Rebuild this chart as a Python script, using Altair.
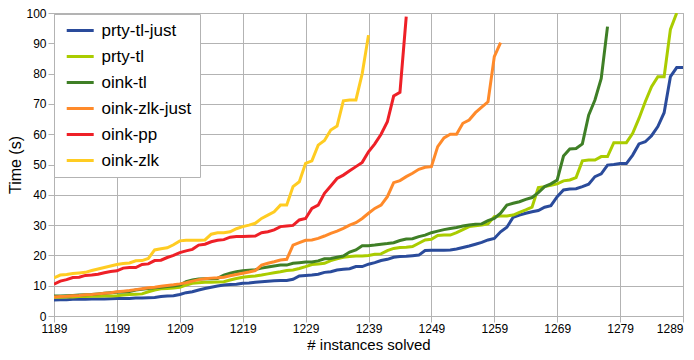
import altair as alt
import pandas as pd

START = 1189

series_names = ["prty-tl-just", "prty-tl", "oink-tl", "oink-zlk-just", "oink-pp", "oink-zlk"]
series_colors = ["#2a4b9b", "#aacc00", "#3f7f26", "#ff8a2a", "#ee2027", "#ffcc22"]

prty_tl_just = [5.3, 5.4, 5.4, 5.5, 5.5, 5.5, 5.6, 5.6, 5.6, 5.7, 5.8, 5.8, 5.8, 5.9, 5.9, 6.0,
                6.1, 6.4, 6.6, 6.7, 7.1, 7.7, 8.0, 8.6, 9.1, 9.5, 9.9, 10.2, 10.4, 10.5, 10.8,
                10.9, 11.1, 11.3, 11.5, 11.6, 11.7, 11.7, 12.1, 13.2, 13.4, 13.5, 13.8, 14.4,
                14.6, 15.2, 15.4, 15.6, 16.3, 16.3, 17.1, 17.6, 18.3, 18.7, 19.4, 19.6, 19.7,
                19.9, 20.1, 21.6, 21.7, 21.7, 21.7, 21.8, 22.1, 22.6, 23.1, 23.7, 24.3, 25.1,
                25.6, 27.8, 29.3, 32.6, 33.3, 33.9, 34.4, 34.8, 35.9, 36.4, 39.4, 41.6, 41.9,
                42.0, 42.7, 43.5, 46.0, 46.9, 49.8, 50.0, 50.3, 50.3, 53.1, 56.8, 57.5, 59.5,
                62.5, 67.1, 79.0, 82.0, 82.0]

prty_tl = [6.2, 6.2, 6.3, 6.3, 6.4, 6.4, 6.5, 6.5, 6.6, 6.6, 6.7, 6.9, 7.1, 7.2, 7.3, 8.0,
           8.6, 9.0, 9.1, 9.2, 9.5, 10.2, 10.8, 11.0, 11.1, 11.1, 11.2, 11.3, 11.9, 12.4, 12.8,
           13.0, 13.2, 13.5, 13.9, 14.3, 14.6, 15.0, 15.2, 15.7, 16.3, 17.0, 17.2, 17.4, 18.3,
           18.9, 19.4, 19.6, 19.8, 19.8, 20.0, 20.4, 20.5, 21.6, 22.3, 22.6, 22.7, 22.9, 24.0,
           25.1, 25.3, 26.6, 26.7, 26.7, 27.5, 28.5, 29.5, 29.8, 30.0, 30.4, 32.8, 33.0, 33.0,
           33.3, 34.2, 35.0, 35.9, 42.4, 42.7, 43.1, 43.6, 44.6, 44.9, 45.7, 51.2, 51.5, 51.5,
           52.6, 52.6, 57.2, 57.2, 57.2, 60.3, 65.2, 70.7, 75.7, 79.0, 79.0, 94.6, 100.0]

oink_tl = [6.6, 6.6, 6.7, 6.8, 6.9, 7.0, 7.1, 7.3, 7.5, 7.7, 7.8, 7.9, 8.1, 8.6, 8.8, 9.1,
           9.3, 9.5, 9.7, 9.9, 10.2, 11.3, 11.9, 12.2, 12.3, 12.3, 12.4, 13.5, 14.1, 14.6, 14.9,
           15.1, 15.3, 15.8, 16.2, 16.5, 16.8, 16.8, 17.4, 17.6, 17.8, 17.8, 18.2, 18.9, 19.0,
           19.4, 19.8, 21.1, 21.8, 23.2, 23.2, 23.4, 23.7, 23.9, 24.2, 24.9, 25.4, 25.5, 26.2,
           26.7, 27.5, 28.0, 28.5, 28.9, 29.2, 29.7, 30.0, 30.3, 30.4, 31.5, 32.2, 33.9, 36.6,
           37.2, 37.7, 38.5, 39.1, 40.7, 42.7, 43.6, 44.9, 52.8, 55.1, 55.3, 56.8, 66.3, 71.3,
           78.4, 95.5]

oink_zlk_just = [6.3, 6.4, 6.5, 6.7, 6.8, 7.0, 7.1, 7.3, 7.5, 7.7, 8.0, 8.2, 8.4, 8.7, 9.0,
                 9.3, 9.5, 9.8, 10.1, 10.3, 10.6, 11.0, 11.5, 12.0, 12.3, 12.5, 12.6, 12.8, 13.3,
                 13.7, 14.1, 14.5, 15.0, 16.8, 17.4, 17.9, 18.5, 18.7, 23.4, 24.2, 25.0, 25.1,
                 25.6, 26.4, 27.3, 28.0, 28.9, 30.0, 30.8, 32.2, 33.9, 35.5, 36.6, 39.4, 44.0,
                 44.7, 46.0, 47.1, 48.4, 49.1, 49.3, 55.9, 58.8, 60.0, 60.0, 63.6, 64.7, 67.1,
                 68.9, 70.7, 85.6, 90.2]

oink_pp = [10.5, 11.5, 12.0, 12.7, 12.8, 13.4, 13.5, 13.8, 14.3, 14.7, 14.9, 15.8, 16.0, 16.0,
           17.0, 17.2, 18.3, 18.4, 19.3, 20.0, 20.9, 21.5, 22.0, 23.4, 23.7, 24.5, 25.0, 25.2,
           26.0, 26.2, 26.2, 26.3, 26.4, 27.5, 27.8, 28.4, 29.5, 29.7, 29.9, 31.7, 32.2, 35.5,
           36.6, 40.5, 42.9, 45.4, 46.5, 47.9, 49.3, 50.7, 54.2, 56.8, 60.0, 64.1, 72.6, 73.8,
           98.8]

oink_zlk = [12.6, 13.5, 13.7, 14.0, 14.2, 14.4, 15.0, 15.5, 16.0, 16.5, 17.0, 17.3, 17.5, 18.2,
            18.3, 19.0, 21.8, 22.2, 22.5, 23.5, 24.8, 25.0, 25.0, 25.0, 25.1, 27.0, 27.5, 27.5,
            27.8, 28.8, 29.5, 30.0, 30.6, 32.2, 33.3, 34.4, 36.6, 36.6, 42.7, 44.3, 50.4, 51.2,
            56.4, 57.9, 61.4, 62.7, 71.0, 71.3, 71.3, 80.0, 92.7]

x_ticks = list(range(1189, 1290, 10))
y_ticks = list(range(0, 101, 10))

all_series = [prty_tl_just, prty_tl, oink_tl, oink_zlk_just, oink_pp, oink_zlk]
rows = []
for k, (name, vals) in enumerate(zip(series_names, all_series)):
    for i, v in enumerate(vals):
        rows.append({"series": name, "n": START + i, "time": v, "k": k})
df = pd.DataFrame(rows)

FONT = "Liberation Sans"

chart = alt.Chart(df).mark_line(strokeWidth=3, clip=True).encode(
    x=alt.X("n:Q",
            scale=alt.Scale(domain=[1189, 1289], nice=False, zero=False),
            axis=alt.Axis(values=x_ticks, title="# instances solved", format="d",
                          labelAlign={"condition": {"test": "datum.value > 1285", "value": "right"},
                                      "value": "center"},
                          labelFontSize=12, titleFontSize=15, titleFontWeight="normal",
                          labelColor="#000000", titleColor="#000000", labelFlush=False,
                          tickSize=6, labelPadding=1, titlePadding=3,
                          gridColor="#b3b3b3", domainColor="#b3b3b3", tickColor="#b3b3b3")),
    y=alt.Y("time:Q",
            scale=alt.Scale(domain=[0, 100], nice=False),
            axis=alt.Axis(values=y_ticks, title="Time (s)",
                          labelFontSize=12, titleFontSize=16, titleFontWeight="normal",
                          labelColor="#000000", titleColor="#000000", labelFlush=False,
                          tickSize=6, labelPadding=2, titlePadding=2,
                          gridColor="#b3b3b3", domainColor="#b3b3b3", tickColor="#b3b3b3")),
    color=alt.Color("series:N",
                    scale=alt.Scale(domain=series_names, range=series_colors),
                    legend=alt.Legend(title=None, orient="none", legendX=0, legendY=1,
                                      symbolType="M-0.56,0L3.44,0", symbolSize=182,
                                      symbolStrokeWidth=3,
                                      labelFontSize=17, labelColor="#000000", labelOffset=22.5,
                                      rowPadding=8, padding=8,
                                      strokeColor="#b3b3b3", fillColor="#ffffff")),
    order=alt.Order("n:Q"),
).properties(
    width=629, height=303,
    autosize=alt.AutoSizeParams(type="none"),
    padding={"left": 46, "top": 5, "right": 3, "bottom": 36},
).configure(font=FONT).configure_view(stroke="#b3b3b3", strokeWidth=1).configure_axis(
    gridWidth=1, domainWidth=1, labelFont=FONT, titleFont=FONT
).configure_legend(labelFont=FONT)

chart.save("out.html", embed_options={"renderer": "svg", "actions": False})
